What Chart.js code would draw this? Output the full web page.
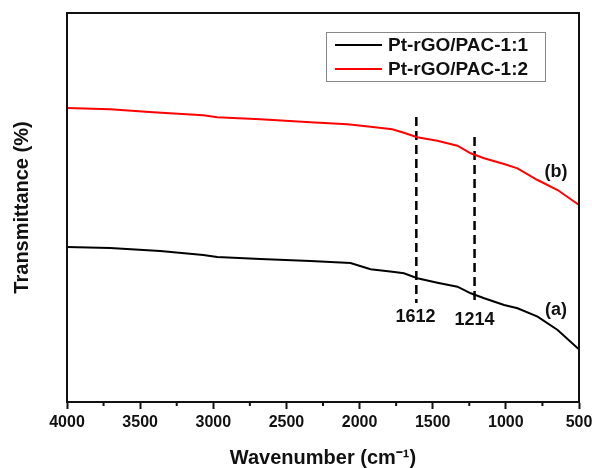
<!DOCTYPE html>
<html>
<head>
<meta charset="utf-8">
<script src="https://cdn.jsdelivr.net/npm/chart.js@4"></script>
<style>
  body { margin: 0; background: #fff; }
  #wrap { width: 592px; height: 468px; }
</style>
</head>
<body>
<div id="wrap"><canvas id="chart" width="592" height="468"></canvas></div>
<script>
// Pt-rGO/PAC-1:1, curve (a)
const wnA = [4000, 3705, 3363, 3068, 2973, 2678, 2336, 2062, 1925, 1776, 1697, 1605, 1468, 1331, 1240, 1148, 1012, 920, 783, 646, 509, 500];
const tA  = [155, 154, 151, 147, 145, 143, 141, 139, 132.7, 130.3, 128.7, 123.7, 119.3, 115.3, 108.7, 103.7, 97, 93.7, 85.3, 72, 53.7, 53];

// Pt-rGO/PAC-1:2, curve (b)
const wnB = [4000, 3705, 3411, 3068, 2973, 2678, 2336, 2082, 1925, 1776, 1697, 1605, 1468, 1331, 1240, 1148, 1012, 920, 783, 646, 509, 500];
const tB  = [294, 292.7, 289.7, 286.7, 284.7, 282.7, 279.7, 277.7, 275.3, 272.7, 269.3, 264.7, 261.3, 256.3, 248.7, 243.7, 238, 233.7, 222, 212, 198, 197];

const seriesNames = ["Pt-rGO/PAC-1:1", "Pt-rGO/PAC-1:2"];
const seriesColors = ["#000000", "#ff0000"];

// dashed marker lines
const peakWn = [1612, 1214];
const peakTop = [285, 265];
const peakBottom = [99, 99];
const peakLabels = ["1612", "1214"];

const xMin = 500, xMax = 4000;
const yMin = 0, yMax = 389;

const FONT = '"Liberation Sans", Arial, sans-serif';
const INK = "#111111";

function pts(xs, ys) {
  return xs.map((x, i) => ({ x: x, y: ys[i] }));
}

const datasets = [
  { label: seriesNames[0], data: pts(wnA, tA), borderColor: seriesColors[0], borderWidth: 2, pointRadius: 0, tension: 0 },
  { label: seriesNames[1], data: pts(wnB, tB), borderColor: seriesColors[1], borderWidth: 2, pointRadius: 0, tension: 0 }
];
peakWn.forEach((w, i) => {
  datasets.push({
    label: "peak " + peakLabels[i],
    data: [{ x: w, y: peakTop[i] }, { x: w, y: peakBottom[i] }],
    borderColor: "#000", borderWidth: 2.5, borderDash: [9, 5], pointRadius: 0
  });
});

const decor = {
  id: "decor",
  afterDatasetsDraw(chart) {
    const { ctx, chartArea: a, scales: { x, y } } = chart;
    ctx.save();

    // frame around plot
    ctx.strokeStyle = INK;
    ctx.lineWidth = 2;
    ctx.strokeRect(a.left, a.top, a.right - a.left, a.bottom - a.top);

    // minor ticks
    x.ticks.filter(t => t.value % 500 !== 0).forEach(t => {
      const px = x.getPixelForValue(t.value);
      ctx.beginPath();
      ctx.moveTo(px, a.bottom);
      ctx.lineTo(px, a.bottom + 4);
      ctx.stroke();
    });

    // peak labels and curve letters
    ctx.fillStyle = INK;
    ctx.font = "bold 18px " + FONT;
    ctx.textAlign = "center";
    ctx.textBaseline = "middle";
    ctx.fillText(peakLabels[0], x.getPixelForValue(1618), y.getPixelForValue(85));
    ctx.fillText(peakLabels[1], x.getPixelForValue(1214), y.getPixelForValue(82));
    ctx.fillText("(b)", x.getPixelForValue(658), y.getPixelForValue(230));
    ctx.fillText("(a)", x.getPixelForValue(658), y.getPixelForValue(92));

    // legend
    const bx = 326, by = 32, bw = 219, bh = 49;
    ctx.strokeStyle = "#888";
    ctx.lineWidth = 1;
    ctx.strokeRect(bx + 0.5, by + 0.5, bw, bh);
    ctx.font = "bold 19px " + FONT;
    ctx.textAlign = "left";
    seriesNames.forEach((name, i) => {
      const ry = by + 13 + i * 24;
      ctx.strokeStyle = seriesColors[i];
      ctx.lineWidth = 2;
      ctx.beginPath();
      ctx.moveTo(bx + 9, ry);
      ctx.lineTo(bx + 56, ry);
      ctx.stroke();
      ctx.fillStyle = INK;
      ctx.fillText(name, bx + 62, ry + 1);
    });

    ctx.restore();
  }
};

new Chart(document.getElementById("chart"), {
  type: "line",
  data: { datasets: datasets },
  options: {
    responsive: false,
    animation: false,
    layout: { padding: { left: 0, top: 13, right: 13, bottom: 0 } },
    plugins: { legend: { display: false }, tooltip: { enabled: false } },
    scales: {
      x: {
        type: "linear",
        reverse: true,
        min: xMin,
        max: xMax,
        afterFit: s => { s.height = 66; s.paddingLeft = 0; s.paddingRight = 0; },
        ticks: {
          stepSize: 250,
          autoSkip: false,
          maxRotation: 0,
          padding: 4,
          color: INK,
          font: { family: FONT, size: 16, weight: "bold" },
          callback: v => (v % 500 === 0 ? String(v) : "")
        },
        grid: {
          drawOnChartArea: false,
          tickLength: 7,
          tickWidth: 2,
          tickColor: c => (c.tick && c.tick.value % 500 === 0 ? INK : "rgba(0,0,0,0)")
        },
        border: { display: true, color: INK, width: 2 },
        title: {
          display: true,
          text: "Wavenumber (cm\u207B\u00B9)",
          color: INK,
          padding: { top: 0, bottom: 0 },
          font: { family: FONT, size: 20, weight: "bold", lineHeight: 1 }
        }
      },
      y: {
        min: yMin,
        max: yMax,
        afterFit: s => { s.width = 67; s.paddingTop = 0; s.paddingBottom = 0; },
        ticks: { display: false },
        grid: { display: false },
        border: { display: true, color: INK, width: 2 },
        title: {
          display: true,
          text: "Transmittance (%)",
          color: INK,
          padding: { top: 12, bottom: 0 },
          font: { family: FONT, size: 20, weight: "bold", lineHeight: 1 }
        }
      }
    }
  },
  plugins: [decor]
});
</script>
</body>
</html>
